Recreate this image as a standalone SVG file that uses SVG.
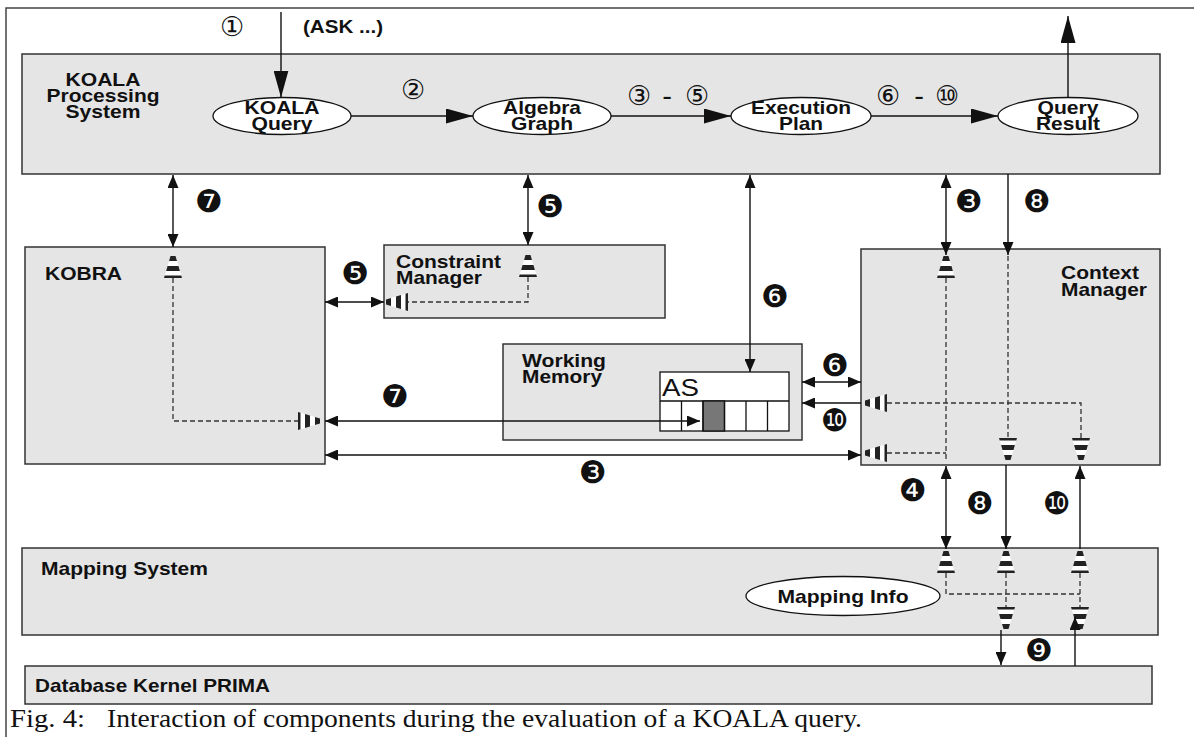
<svg xmlns="http://www.w3.org/2000/svg" xmlns:xlink="http://www.w3.org/1999/xlink" width="1194" height="737" viewBox="0 0 1194 737">
<style>
.box{fill:#e5e5e5;stroke:#333;stroke-width:1.5}
.ell{fill:#fff;stroke:#111;stroke-width:1.3}
.lbl{font-family:"Liberation Sans",Arial,sans-serif;font-weight:bold;font-size:19px;fill:#111}
.elt{font-family:"Liberation Sans",Arial,sans-serif;font-weight:bold;font-size:19px;fill:#111;text-anchor:middle}
.num{font-family:"DejaVu Sans",sans-serif;font-size:27px;fill:#111;text-anchor:middle;dominant-baseline:central}
.neg{font-family:"DejaVu Sans",sans-serif;font-size:31px;fill:#111;text-anchor:middle;dominant-baseline:central}
.cap{font-family:"Liberation Serif","Times New Roman",serif;font-size:25px;fill:#111}
.con{fill:none;stroke:#111;stroke-width:1.4}
.big{marker-end:url(#hb)}
.one{marker-end:url(#hs)}
.two{marker-start:url(#hs);marker-end:url(#hs)}
.dash{fill:none;stroke:#333;stroke-width:1.3;stroke-dasharray:5 3}
</style>
<defs>
<marker id="hb" viewBox="0 0 27 15" refX="27" refY="7.5" markerWidth="27" markerHeight="15" markerUnits="userSpaceOnUse" orient="auto-start-reverse"><path d="M0,0 L27,7.5 L0,15 z" fill="#111"/></marker>
<marker id="hs" viewBox="0 0 13 11" refX="13" refY="5.5" markerWidth="13" markerHeight="11" markerUnits="userSpaceOnUse" orient="auto-start-reverse"><path d="M0,0 L13,5.5 L0,11 z" fill="#111"/></marker>
<g id="cone">
<polygon points="-2.5,0 2.5,0 9,22 -9,22" fill="#fff"/>
<polygon points="-2.5,0 2.5,0 4,5 -4,5" fill="#222"/>
<polygon points="-5.5,10 5.5,10 6.9,15 -6.9,15" fill="#222"/>
<polygon points="-8.3,19.5 8.3,19.5 9,22 -9,22" fill="#222"/>
</g>
</defs>

<path d="M6,737 V8 H1194" fill="none" stroke="#444" stroke-width="1.5"/>

<g id="koala-processing-system">
<rect class="box" x="22" y="54" width="1138" height="120"/>
<text class="elt" x="103" y="86" textLength="75" lengthAdjust="spacingAndGlyphs">KOALA</text>
<text class="elt" x="103" y="102" textLength="113" lengthAdjust="spacingAndGlyphs">Processing</text>
<text class="elt" x="103" y="118" textLength="75" lengthAdjust="spacingAndGlyphs">System</text>
</g>
<g id="koala-query">
<ellipse class="ell" cx="282" cy="116" rx="69" ry="18.5"/>
<text class="elt" x="282" y="114" textLength="75" lengthAdjust="spacingAndGlyphs">KOALA</text>
<text class="elt" x="282" y="130" textLength="61" lengthAdjust="spacingAndGlyphs">Query</text>
</g>
<g id="algebra-graph">
<ellipse class="ell" cx="542" cy="116" rx="69" ry="18.5"/>
<text class="elt" x="542" y="114" textLength="78" lengthAdjust="spacingAndGlyphs">Algebra</text>
<text class="elt" x="542" y="130" textLength="62" lengthAdjust="spacingAndGlyphs">Graph</text>
</g>
<g id="execution-plan">
<ellipse class="ell" cx="801" cy="116" rx="70" ry="18.5"/>
<text class="elt" x="801" y="114" textLength="100" lengthAdjust="spacingAndGlyphs">Execution</text>
<text class="elt" x="801" y="130" textLength="44" lengthAdjust="spacingAndGlyphs">Plan</text>
</g>
<g id="query-result">
<ellipse class="ell" cx="1068" cy="116" rx="70" ry="18.5"/>
<text class="elt" x="1068" y="114" textLength="61" lengthAdjust="spacingAndGlyphs">Query</text>
<text class="elt" x="1068" y="130" textLength="64" lengthAdjust="spacingAndGlyphs">Result</text>
</g>

<g id="kobra">
<rect class="box" x="25" y="247" width="300" height="217"/>
<text class="lbl" x="45" y="280" textLength="77" lengthAdjust="spacingAndGlyphs">KOBRA</text>
</g>
<g id="constraint-manager">
<rect class="box" x="384" y="245" width="281" height="73"/>
<text class="lbl" x="396" y="268" textLength="105" lengthAdjust="spacingAndGlyphs">Constraint</text>
<text class="lbl" x="396" y="284" textLength="86" lengthAdjust="spacingAndGlyphs">Manager</text>
</g>
<g id="working-memory">
<rect class="box" x="503" y="344" width="299" height="96"/>
<text class="lbl" x="522" y="367" textLength="84" lengthAdjust="spacingAndGlyphs">Working</text>
<text class="lbl" x="522" y="383" textLength="80" lengthAdjust="spacingAndGlyphs">Memory</text>
<rect x="660" y="372" width="129" height="59" fill="#fff" stroke="#111" stroke-width="1.3"/>
<line x1="660" y1="401" x2="789" y2="401" stroke="#111" stroke-width="1.3"/>
<rect x="703" y="401" width="21.5" height="30" fill="#777" stroke="#111" stroke-width="1.3"/>
<path d="M681.5,401 V431 M703,401 V431 M724.5,401 V431 M746,401 V431 M767.5,401 V431" stroke="#111" stroke-width="1.3"/>
<text x="662" y="396" font-family="'Liberation Sans', Arial, sans-serif" font-size="23" fill="#111" textLength="37" lengthAdjust="spacingAndGlyphs">AS</text>
</g>
<g id="context-manager">
<rect class="box" x="861" y="249" width="299" height="216"/>
<text class="lbl" x="1061" y="279" textLength="78" lengthAdjust="spacingAndGlyphs">Context</text>
<text class="lbl" x="1061" y="296" textLength="86" lengthAdjust="spacingAndGlyphs">Manager</text>
</g>
<g id="mapping-system">
<rect class="box" x="22" y="548" width="1136" height="87"/>
<text class="lbl" x="41" y="575" textLength="167" lengthAdjust="spacingAndGlyphs">Mapping System</text>
<ellipse class="ell" cx="843" cy="596" rx="97" ry="19.5"/>
<text class="elt" x="843" y="603" textLength="131" lengthAdjust="spacingAndGlyphs">Mapping Info</text>
</g>
<g id="database-kernel">
<rect class="box" x="25" y="666" width="1127" height="38"/>
<text class="lbl" x="35" y="692" textLength="235" lengthAdjust="spacingAndGlyphs">Database Kernel PRIMA</text>
</g>

<g id="ports">
<path class="dash" d="M173,278 V421 H298"/>
<path class="dash" d="M528,277 V302 H408"/>
<path class="dash" d="M946,278 V462 M1008,256 V438 M887,403 H1081 V438 M887,453 H946"/>
<path class="dash" d="M946,573 V594 H1080 M1006,573 V607 M1080,573 V607"/>
<use xlink:href="#cone" transform="translate(173,256)"/>
<use xlink:href="#cone" transform="translate(320,421) rotate(90)"/>
<use xlink:href="#cone" transform="translate(528,255)"/>
<use xlink:href="#cone" transform="translate(386,302) rotate(-90)"/>
<use xlink:href="#cone" transform="translate(946,256)"/>
<use xlink:href="#cone" transform="translate(1008,460) rotate(180)"/>
<use xlink:href="#cone" transform="translate(1081,460) rotate(180)"/>
<use xlink:href="#cone" transform="translate(865,403) rotate(-90)"/>
<use xlink:href="#cone" transform="translate(865,453) rotate(-90)"/>
<use xlink:href="#cone" transform="translate(946,551)"/>
<use xlink:href="#cone" transform="translate(1006,551)"/>
<use xlink:href="#cone" transform="translate(1080,551)"/>
<use xlink:href="#cone" transform="translate(1006,629) rotate(180)"/>
<use xlink:href="#cone" transform="translate(1080,629) rotate(180)"/>
</g>

<g id="connectors">
<path class="con big" d="M281,12 V97.5"/>
<path class="con big" d="M1068,97.5 V16"/>
<path class="con big" d="M351,116 H473"/>
<path class="con big" d="M611,116 H731"/>
<path class="con big" d="M871,116 H998"/>
<path class="con two" d="M173,175 V247"/>
<path class="con two" d="M528,175 V245"/>
<path class="con two" d="M750,175 V372"/>
<path class="con two" d="M946,175 V255"/>
<path class="con one" d="M1008,174 V255"/>
<path class="con two" d="M325,302 H384"/>
<path class="con two" d="M325,421 H700"/>
<path class="con two" d="M802,382 H861"/>
<path class="con one" d="M861,403 H802"/>
<path class="con two" d="M325,455 H861"/>
<path class="con two" d="M946,466 V549"/>
<path class="con one" d="M1006,465 V549"/>
<path class="con one" d="M1080,549 V466"/>
<path class="con one" d="M1001,630 V665"/>
<path class="con one" d="M1075,666 V617"/>
</g>

<g id="labels">
<text class="num" x="232" y="26">①</text>
<text x="303" y="33" font-family="'Liberation Sans', Arial, sans-serif" font-weight="bold" font-size="18" fill="#111" textLength="80" lengthAdjust="spacingAndGlyphs">(ASK ...)</text>
<text class="num" x="413" y="89">②</text>
<text class="num" x="639" y="95">③</text>
<text class="num" x="667" y="95">-</text>
<text class="num" x="697" y="95">⑤</text>
<text class="num" x="888" y="95">⑥</text>
<text class="num" x="919" y="95">-</text>
<text class="num" x="947" y="95">⑩</text>
<text class="neg" x="209" y="201">❼</text>
<text class="neg" x="550" y="206">❺</text>
<text class="neg" x="355" y="273">❺</text>
<text class="neg" x="775" y="296">❻</text>
<text class="neg" x="969" y="201">❸</text>
<text class="neg" x="1037" y="201">❽</text>
<text class="neg" x="835" y="365">❻</text>
<text class="neg" x="395" y="396">❼</text>
<text class="neg" x="835" y="420">❿</text>
<text class="neg" x="593" y="472">❸</text>
<text class="neg" x="913" y="490">❹</text>
<text class="neg" x="980" y="503">❽</text>
<text class="neg" x="1057" y="503">❿</text>
<text class="neg" x="1039" y="650">❾</text>
</g>

<g id="caption">
<text class="cap" x="10" y="727" textLength="75" lengthAdjust="spacingAndGlyphs">Fig. 4:</text>
<text class="cap" x="107" y="727" textLength="755" lengthAdjust="spacingAndGlyphs">Interaction of components during the evaluation of a KOALA query.</text>
</g>
</svg>
